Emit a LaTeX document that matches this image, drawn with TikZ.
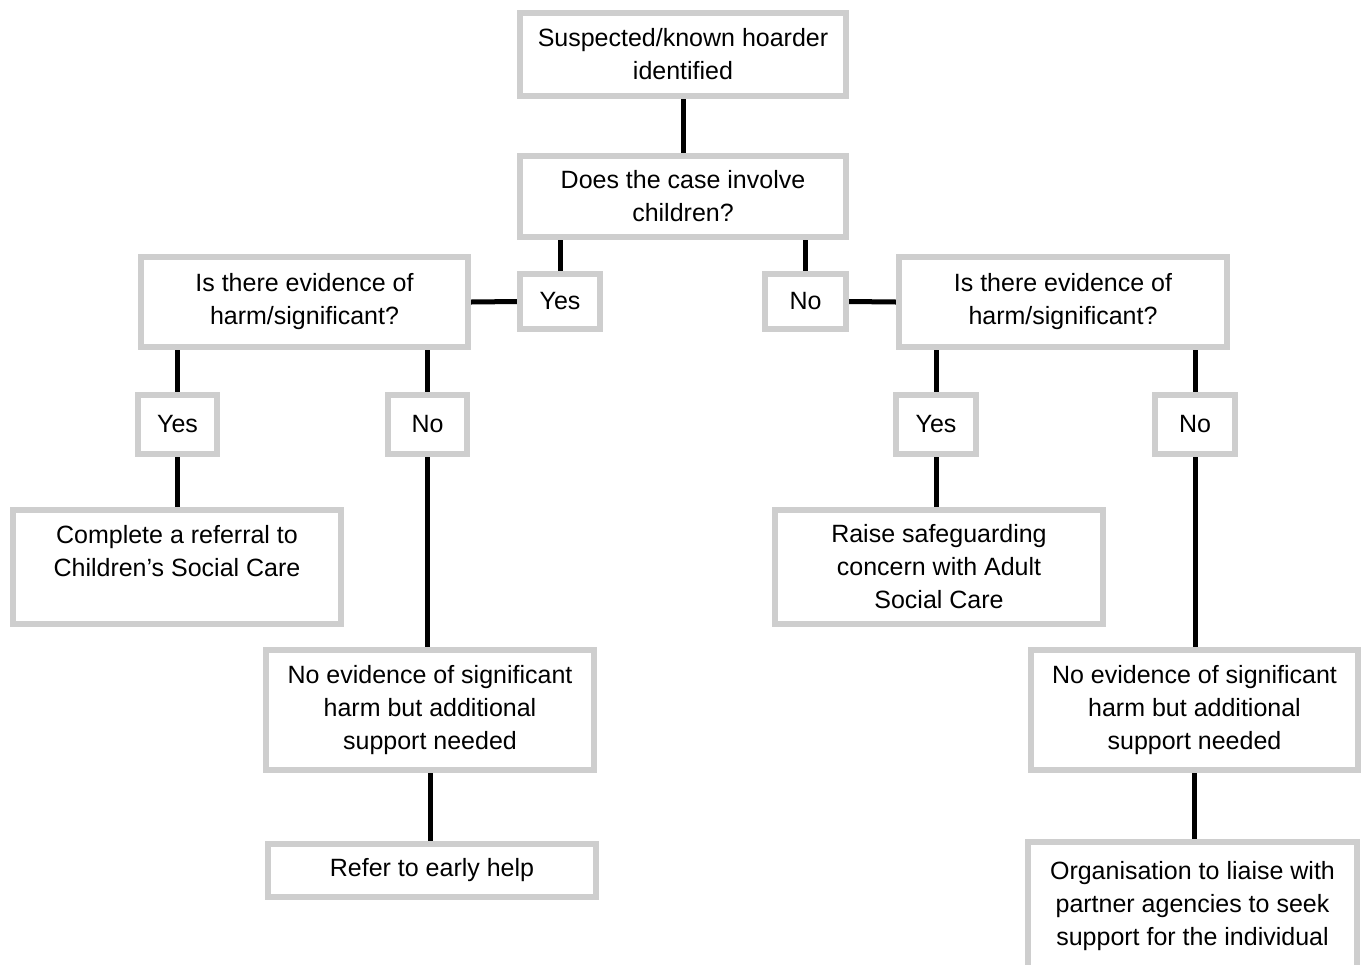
\documentclass[tikz,border=0pt]{standalone}
\usepackage{fontspec}
\setmainfont{Liberation Sans}
\usetikzlibrary{backgrounds}
\definecolor{boxgray}{RGB}{206,206,206}
\tikzset{
  box/.style={draw=boxgray, line width=3pt, fill=white, align=center, inner sep=0pt,
    font=\fontsize{12.5}{16.5}\selectfont},
  conn/.style={draw=black, line width=2.5pt}
}
\begin{document}
\begin{tikzpicture}[x=0.5pt,y=-0.5pt]
\useasboundingbox (0,0) rectangle (1362,965);
\clip (0,0) rectangle (1362,965);
\node[box, minimum width=163pt, minimum height=41.5pt] (top) at (683,54.5) {Suspected/known hoarder\\identified};
\node[box, minimum width=163pt, minimum height=40.5pt] (does) at (683,196.5) {Does the case involve\\children?};
\node[box, minimum width=40pt, minimum height=27.5pt] (yesT) at (560,301.5) {Yes};
\node[box, minimum width=40.5pt, minimum height=27.5pt] (noT) at (805.5,301.5) {No};
\node[box, minimum width=163.5pt, minimum height=45pt] (isL) at (304.5,302) {Is there evidence of\\harm/significant?};
\node[box, minimum width=164pt, minimum height=45pt] (isR) at (1063,302) {Is there evidence of\\harm/significant?};
\node[box, minimum width=39.5pt, minimum height=29.5pt] (yesL) at (177.5,424.5) {Yes};
\node[box, minimum width=39.5pt, minimum height=29.5pt] (noL) at (427.5,424.5) {No};
\node[box, minimum width=40pt, minimum height=29.5pt] (yesR) at (936,424.5) {Yes};
\node[box, minimum width=40pt, minimum height=29.5pt] (noR) at (1195,424.5) {No};
\node[box, minimum width=164pt, minimum height=57pt] (refL) at (177,567) {Complete a referral to\\Children’s Social Care\\\mbox{}};
\node[box, minimum width=164pt, minimum height=57pt] (raise) at (939,567) {Raise safeguarding\\concern with Adult\\Social Care};
\node[box, minimum width=164pt, minimum height=60pt] (noevL) at (430,710) {No evidence of significant\\harm but additional\\support needed};
\node[box, minimum width=163.5pt, minimum height=60pt] (noevR) at (1194.5,710) {No evidence of significant\\harm but additional\\support needed};
\node[box, minimum width=164pt, minimum height=26.5pt] (early) at (432,870.5) {Refer to early help};
\node[box, minimum width=164.5pt, minimum height=64pt] (org) at (1192.5,906) {Organisation to liaise with\\partner agencies to seek\\support for the individual};
\begin{scope}[on background layer]
\draw[conn] (top.south) -- (does.north);
\draw[conn] (yesT.north) -- (yesT.north |- does.south);
\draw[conn] (noT.north) -- (noT.north |- does.south);
\draw[conn] (yesT.west) -- (isL.east);
\draw[conn] (noT.east) -- (isR.west);
\draw[conn] (yesL.north) -- (yesL.north |- isL.south);
\draw[conn] (noL.north) -- (noL.north |- isL.south);
\draw[conn] (yesR.north) -- (yesR.north |- isR.south);
\draw[conn] (noR.north) -- (noR.north |- isR.south);
\draw[conn] (yesL.south) -- (yesL.south |- refL.north);
\draw[conn] (yesR.south) -- (yesR.south |- raise.north);
\draw[conn] (noL.south) -- (noL.south |- noevL.north);
\draw[conn] (noR.south) -- (noR.south |- noevR.north);
\draw[conn] (noevL.south) -- (noevL.south |- early.north);
\draw[conn] (noevR.south) -- (noevR.south |- org.north);
\end{scope}
\end{tikzpicture}
\end{document}
